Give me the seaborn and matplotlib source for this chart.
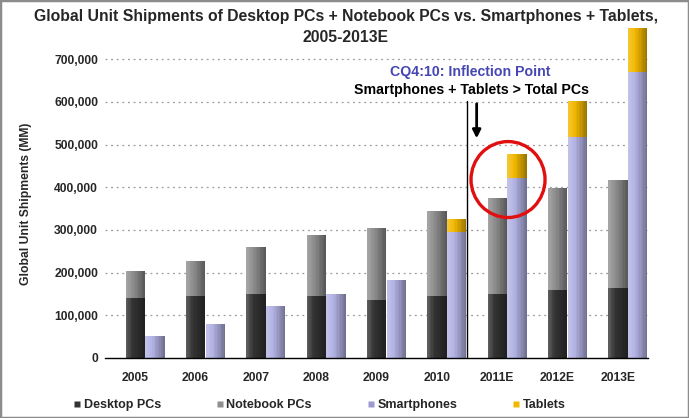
import numpy as np
import pandas as pd
import matplotlib
matplotlib.use("Agg")
import matplotlib.pyplot as plt
import matplotlib.colors as mcolors
from matplotlib.lines import Line2D
from matplotlib.patches import Ellipse, Rectangle
import seaborn as sns

years = ["2005", "2006", "2007", "2008", "2009", "2010", "2011E", "2012E", "2013E"]
desktop = [141000, 145000, 151000, 145000, 136000, 146000, 151000, 159000, 163000]
notebook = [63000, 82000, 109000, 142000, 168000, 199000, 223000, 240000, 255000]
smartphones = [52000, 80000, 122000, 150000, 183000, 296000, 422000, 518000, 669000]
tablets = [0, 0, 0, 0, 0, 30000, 55000, 84000, 104000]
yticks = [0, 100000, 200000, 300000, 400000, 500000, 600000, 700000]

C_DESK = "#333333"
C_NOTE = "#8e8e8e"
C_PHONE = "#b2b2e4"
C_TAB = "#f2b800"

sns.set_theme(style="white")
plt.rcParams["font.family"] = ["Liberation Sans", "DejaVu Sans"]

fig = plt.figure(figsize=(6.89, 4.18), dpi=100)
ax = fig.add_axes([105 / 689, 1 - 358 / 418, (648 - 105) / 689, (358 - 25) / 418])

pos = np.arange(len(years))
df = pd.DataFrame({
    "pc_x": pos.astype(float),
    "ph_x": pos + 0.33,
    "pc_total": np.array(desktop) + np.array(notebook),
    "desktop": desktop,
    "ph_total": np.array(smartphones) + np.array(tablets),
    "phones": smartphones,
})

kw = dict(native_scale=True, width=0.32, saturation=1, edgecolor="none", linewidth=0, ax=ax, errorbar=None)
sns.barplot(data=df, x="pc_x", y="pc_total", color=C_NOTE, **kw)
sns.barplot(data=df, x="pc_x", y="desktop", color=C_DESK, **kw)
sns.barplot(data=df, x="ph_x", y="ph_total", color=C_TAB, **kw)
sns.barplot(data=df, x="ph_x", y="phones", color=C_PHONE, **kw)

# horizontal gradient shading on each bar (lighter left, darker right),
# drawn as thin vertical strips over each seaborn bar
def shade(c, f):
    r, g, b = mcolors.to_rgb(c)
    if f >= 0:
        return (r + (1 - r) * f, g + (1 - g) * f, b + (1 - b) * f)
    return (r * (1 + f), g * (1 + f), b * (1 + f))

K = 14
for p in list(ax.patches):
    x0, y0, w, h = p.get_x(), p.get_y(), p.get_width(), p.get_height()
    if h <= 0:
        continue
    base = p.get_facecolor()
    xs = x0 + np.arange(K) * w / K
    t = (np.arange(K) + 0.5) / K
    cols = [shade(base, 0.22 * (1 - s) - 0.38 * s) for s in t]
    ax.bar(xs, [h] * K, width=w / K * 1.02, bottom=y0, align="edge", color=cols,
           linewidth=0, antialiased=False, zorder=2)

ax.set_xlim(-0.5, 8.5)
ax.set_ylim(0, 780000)
ax.set_yticks(yticks)
ax.set_yticklabels([f"{v:,}" for v in yticks], fontsize=8.7, fontweight="bold")
ax.set_xticks(pos)
ax.set_xticklabels(years, fontsize=8.7, fontweight="bold")
ax.set_xticks(np.arange(-0.5, 9, 1), minor=True)
ax.tick_params(axis="x", which="major", length=0, pad=10)
ax.tick_params(axis="x", which="minor", length=5, width=0.8, color="black", direction="out")
ax.tick_params(axis="y", length=0, pad=5)
ax.set_xlabel("")
ax.set_ylabel("Global Unit Shipments (MM)", fontsize=8.7, fontweight="bold")
ax.yaxis.set_label_coords(-0.134, 0.462)

for v in yticks[1:]:
    ax.axhline(v, color="#999999", linestyle=(0, (1.5, 3)), linewidth=0.9, zorder=0)

for s in ["top", "right", "left"]:
    ax.spines[s].set_visible(False)
ax.spines["bottom"].set_color("black")
ax.spines["bottom"].set_linewidth(1.0)
ax.spines["bottom"].set_zorder(4)

# annotation
ax.plot([5.5, 5.5], [0, 603000], color="black", linewidth=1.0, zorder=5, clip_on=False)
ax.annotate("", xy=(5.66, 508000), xytext=(5.66, 602000),
            arrowprops=dict(arrowstyle="-|>", color="black", lw=2.0, mutation_scale=12))
ax.text(5.55, 670000, "CQ4:10: Inflection Point", ha="center", va="center",
        fontsize=10.2, fontweight="bold", color="#4646b4")
ax.text(5.57, 628000, "Smartphones + Tablets > Total PCs", ha="center", va="center",
        fontsize=10.2, fontweight="bold", color="black")

# red circle in pixel-consistent shape
circ_cx, circ_cy = 6.18, 418000
ppx = 543 / 9.0
ppy = 299 / 700000
circ = Ellipse((circ_cx, circ_cy), width=74 / ppx, height=76 / ppy, fill=False,
               edgecolor="#e01010", linewidth=2.4, zorder=6)
ax.add_patch(circ)

fig.suptitle("Global Unit Shipments of Desktop PCs + Notebook PCs vs. Smartphones + Tablets,\n2005-2013E",
             x=0.502, y=0.978, fontsize=11.3, fontweight="bold", linespacing=1.45)

handles = [Line2D([], [], marker="s", linestyle="none", markersize=5, markerfacecolor=c,
                  markeredgecolor="none") for c in [C_DESK, C_NOTE, "#9a9ad0", C_TAB]]
fig.legend(handles, ["Desktop PCs", "Notebook PCs", "Smartphones", "Tablets"],
           loc="center left", bbox_to_anchor=(61 / 689, 1 - 405 / 418), ncol=4, frameon=False,
           prop={"weight": "bold", "size": 9}, handletextpad=0.2, columnspacing=4.35,
           handlelength=0.7)

fig.patches.append(Rectangle((0, 0), 1, 1, transform=fig.transFigure, fill=False,
                             edgecolor="#8c8c8c", linewidth=2.5, zorder=10))

fig.savefig("out.png", dpi=100)
